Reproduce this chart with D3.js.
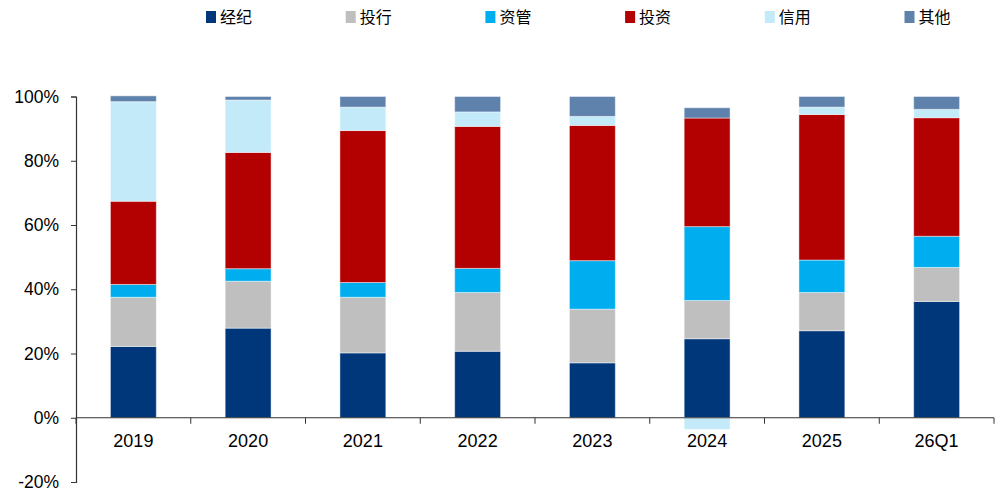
<!DOCTYPE html>
<html>
<head>
<meta charset="utf-8">
<script src="https://cdn.jsdelivr.net/npm/d3@7"></script>
<style>
  html, body { margin: 0; padding: 0; background: #fff; }
  svg { display: block; }
</style>
</head>
<body>
<svg id="chart" width="1000" height="491"></svg>
<script>
// 分类 & 系列
const categories = ["2019", "2020", "2021", "2022", "2023", "2024", "2025", "26Q1"];
const seriesNames = ["经纪", "投行", "资管", "投资", "信用", "其他"];
const seriesColors = ["#00377A", "#BFBFBF", "#00AEEF", "#B30000", "#C2EAF9", "#5E82AC"];

// 各业务收入占比 (%)
const brokerage  = [22.2, 27.9, 20.2, 20.7, 17.1, 24.6, 27.1, 36.2];
const ibanking   = [15.3, 14.6, 17.3, 18.3, 16.7, 11.9, 11.9, 10.6];
const assetMgmt  = [ 4.0,  3.9,  4.6,  7.5, 15.1, 23.0, 10.1,  9.7];
const investment = [25.9, 36.2, 47.3, 44.2, 42.1, 33.8, 45.3, 36.9];
const credit     = [31.0, 16.3,  7.3,  4.5,  2.8, -3.6,  2.3,  2.6];
const others     = [ 1.8,  1.1,  3.3,  4.8,  6.2,  3.2,  3.3,  4.0];

const yTicks = [-20, 0, 20, 40, 60, 80, 100];

const seriesValues = [brokerage, ibanking, assetMgmt, investment, credit, others];
const rows = categories.map((c, i) => {
  const r = {cat: c};
  seriesNames.forEach((s, j) => { r[s] = seriesValues[j][i]; });
  return r;
});

const svg = d3.select("#chart");
const margin = {left: 76, right: 6, top: 96.5, bottom: 9};
const W = 1000, H = 491;

// x 方向のスケール
const x = d3.scaleBand()
  .domain(categories)
  .range([margin.left, W - margin.right])
  .paddingInner(0.6)
  .paddingOuter(0.3);

// y 方向のスケール
const y = d3.scaleLinear()
  .domain([-20, 100])
  .range([H - margin.bottom, margin.top]);

const stack = d3.stack()
  .keys(seriesNames)
  .offset(d3.stackOffsetDiverging);
const stacked = stack(rows);

// 棒
svg.append("g")
  .selectAll("g")
  .data(stacked)
  .join("g")
  .attr("fill", (d, i) => seriesColors[i])
  .selectAll("rect")
  .data(d => d)
  .join("rect")
  .attr("x", d => x(d.data.cat))
  .attr("width", x.bandwidth())
  .attr("y", d => y(Math.max(d[0], d[1])))
  .attr("height", d => Math.abs(y(d[0]) - y(d[1])))
  .attr("stroke", "#ffffff")
  .attr("stroke-opacity", 0.45)
  .attr("stroke-width", 1);

// y 軸
const yAxis = svg.append("g")
  .attr("transform", `translate(${margin.left},0)`)
  .call(d3.axisLeft(y).tickValues(yTicks).tickSize(5).tickPadding(12)
    .tickFormat(d => d + "%"));
yAxis.select(".domain").attr("stroke", "#333").attr("stroke-width", 1.2);
yAxis.selectAll(".tick line").attr("stroke", "#333");
yAxis.selectAll("text")
  .attr("font-family", "'Liberation Sans', Arial, sans-serif")
  .attr("font-size", 17.5)
  .attr("fill", "#000");

// x 軸 (0% の位置)
const step = x.step();
const boundaries = categories.map(c => x(c) + x.bandwidth() / 2 - step / 2)
  .concat([x(categories[categories.length - 1]) + x.bandwidth() / 2 + step / 2]);
const xAxisG = svg.append("g").attr("transform", `translate(0,${y(0)})`);
xAxisG.append("line")
  .attr("x1", margin.left).attr("x2", W - margin.right)
  .attr("stroke", "#333").attr("stroke-width", 1.2);
xAxisG.selectAll("line.tk")
  .data(boundaries)
  .join("line")
  .attr("class", "tk")
  .attr("x1", d => d).attr("x2", d => d)
  .attr("y1", 0).attr("y2", 6)
  .attr("stroke", "#333");
xAxisG.selectAll("text")
  .data(categories)
  .join("text")
  .attr("x", d => x(d) + x.bandwidth() / 2)
  .attr("y", 29)
  .attr("text-anchor", "middle")
  .attr("font-family", "'Liberation Sans', Arial, sans-serif")
  .attr("font-size", 18)
  .attr("fill", "#000")
  .text(d => d);

// 凡例
const legend = svg.append("g");
const legendItems = legend.selectAll("g")
  .data(seriesNames)
  .join("g")
  .attr("transform", (d, i) => `translate(${206 + i * 139.7},11)`);
legendItems.append("rect")
  .attr("width", 10).attr("height", 12)
  .attr("fill", (d, i) => seriesColors[i]);
legendItems.append("text")
  .attr("x", 14).attr("y", 11.5)
  .attr("font-family", "'Noto Sans CJK SC', sans-serif")
  .attr("font-size", 16)
  .attr("fill", "#000")
  .text(d => d);
</script>
</body>
</html>
